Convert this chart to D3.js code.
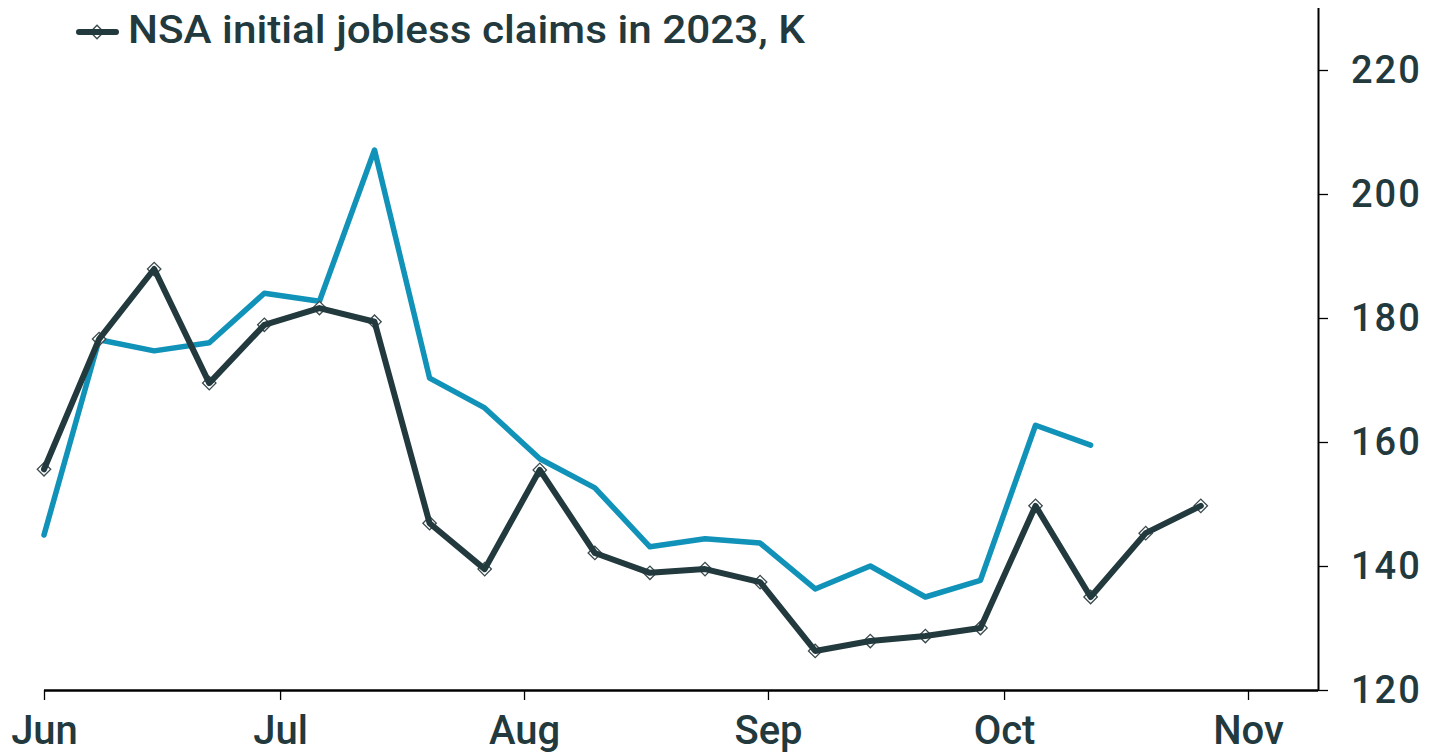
<!DOCTYPE html>
<html>
<head>
<meta charset="utf-8">
<script src="https://cdn.jsdelivr.net/npm/d3@7"></script>
<style>
  html, body { margin: 0; padding: 0; background: #fff; }
  svg { display: block; }
  text { font-family: Roboto, "Noto Sans", sans-serif; fill: #22393d; }
</style>
</head>
<body>
<svg id="chart" width="1440" height="755"></svg>
<script>
// ---- data ----
const dates = [
  "2023-06-01","2023-06-08","2023-06-15","2023-06-22","2023-06-29","2023-07-06",
  "2023-07-13","2023-07-20","2023-07-27","2023-08-03","2023-08-10","2023-08-17",
  "2023-08-24","2023-08-31","2023-09-07","2023-09-14","2023-09-21","2023-09-28",
  "2023-10-05","2023-10-12","2023-10-19","2023-10-26"
];
const claims2023 = [155.6, 176.6, 187.9, 169.5, 178.9, 181.6, 179.4, 146.9, 139.5, 155.5,
  142.1, 138.9, 139.5, 137.4, 126.3, 127.9, 128.7, 130.0, 149.7, 135.0, 145.3, 149.7];
const claimsCompare = [145.0, 176.5, 174.7, 176.0, 184.0, 182.7, 207.1, 170.3, 165.5, 157.3,
  152.6, 143.1, 144.4, 143.7, 136.3, 140.0, 135.0, 137.7, 162.7, 159.5];
const yTicks = [120, 140, 160, 180, 200, 220];
const xTickDates = ["2023-06-01","2023-07-01","2023-08-01","2023-09-01","2023-10-01","2023-11-01"];
const xTickLabels = ["Jun","Jul","Aug","Sep","Oct","Nov"];
const legendLabel = "NSA initial jobless claims in 2023, K";

// ---- layout ----
const parse = d3.timeParse("%Y-%m-%d");
const svg = d3.select("#chart");
const mLeft = 44, mRight = 1318, mTop = 8, mBottom = 690;
const darkCol = "#22393d", blueCol = "#1192b8";

const x = d3.scaleTime()
  .domain([parse("2023-06-01"), parse("2023-11-01")])
  .range([mLeft, 1248]);
const y = d3.scaleLinear().domain([120, 220]).range([mBottom, 70]);

// x axis
const xAxis = d3.axisBottom(x)
  .tickValues(xTickDates.map(parse))
  .tickFormat((d, i) => xTickLabels[i])
  .tickSize(10)
  .tickSizeOuter(0);
const gx = svg.append("g").attr("transform", `translate(0,${mBottom})`).call(xAxis);
gx.select(".domain").attr("stroke", "#000").attr("stroke-width", 2.5)
  .attr("d", `M${mLeft},0.5H${mRight}`);
gx.selectAll(".tick line").attr("stroke", "#000").attr("stroke-width", 1.3);
gx.selectAll(".tick text").attr("font-size", 40).attr("font-weight", 500)
  .attr("fill", darkCol).attr("y", 54).attr("dy", 0)
  .style("font-family", "Roboto, sans-serif");

// y axis (right)
const yAxis = d3.axisRight(y).tickValues(yTicks).tickSize(10).tickSizeOuter(0).tickPadding(23);
const gy = svg.append("g").attr("transform", `translate(${mRight},0)`).call(yAxis);
gy.select(".domain").attr("stroke", "#000").attr("stroke-width", 2)
  .attr("d", `M0.5,${mTop}V${mBottom}`);
gy.selectAll(".tick line").attr("stroke", "#000").attr("stroke-width", 1.3);
gy.selectAll(".tick text").attr("font-size", 38).attr("font-weight", 500)
  .attr("fill", darkCol).attr("letter-spacing", 2)
  .style("font-family", "Roboto, sans-serif");

// lines
const line = d3.line().x(d => x(d[0])).y(d => y(d[1]));
const blueData = claimsCompare.map((v, i) => [parse(dates[i]), v]);
const darkData = claims2023.map((v, i) => [parse(dates[i]), v]);

svg.append("path").datum(blueData).attr("d", line)
  .attr("fill", "none").attr("stroke", blueCol).attr("stroke-width", 5.5)
  .attr("stroke-linejoin", "round").attr("stroke-linecap", "round");

const diamond = d3.symbol().type(d3.symbolSquare).size(90);
svg.append("g").selectAll("path").data(darkData).join("path")
  .attr("d", diamond)
  .attr("transform", d => `translate(${x(d[0])},${y(d[1])}) rotate(45)`)
  .attr("fill", "#fff").attr("stroke", "#3a4a4d").attr("stroke-width", 1.3);

svg.append("path").datum(darkData).attr("d", line)
  .attr("fill", "none").attr("stroke", darkCol).attr("stroke-width", 6)
  .attr("stroke-linejoin", "round").attr("stroke-linecap", "round");

// legend
const lg = svg.append("g");
lg.append("path").attr("d", diamond).attr("transform", "translate(97,32) rotate(45)")
  .attr("fill", "#fff").attr("stroke", "#3a4a4d").attr("stroke-width", 1.3);
lg.append("line").attr("x1", 79).attr("x2", 116).attr("y1", 32).attr("y2", 32)
  .attr("stroke", darkCol).attr("stroke-width", 6).attr("stroke-linecap", "round");
lg.append("text").attr("x", 128).attr("y", 43).attr("font-size", 38).attr("font-weight", 500)
  .attr("textLength", 677).attr("lengthAdjust", "spacingAndGlyphs")
  .text(legendLabel);
</script>
</body>
</html>
